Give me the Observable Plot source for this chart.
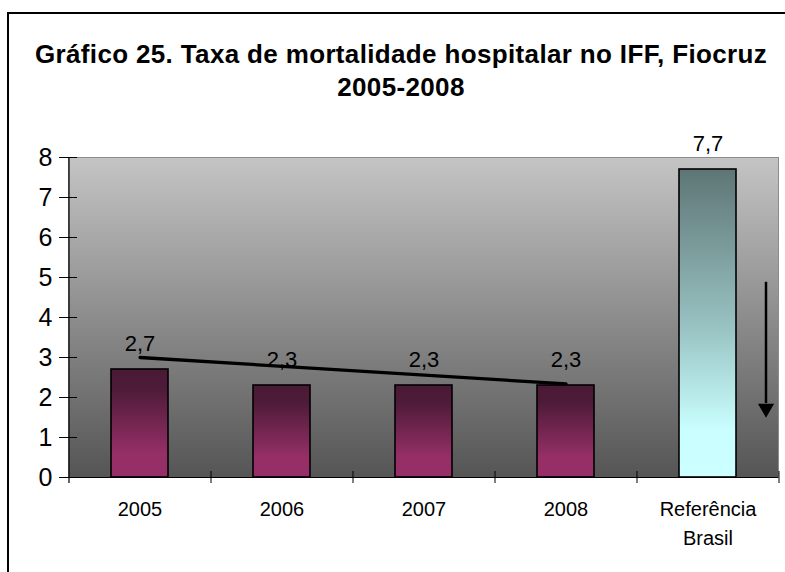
<!DOCTYPE html>
<html><head><meta charset="utf-8">
<script src="https://cdn.jsdelivr.net/npm/d3@7"></script>
<script src="https://cdn.jsdelivr.net/npm/@observablehq/plot@0.6"></script>
<style>
html,body{margin:0;padding:0;background:#fff;overflow:hidden;width:785px;height:572px;}
#frame{position:absolute;left:7px;top:12px;width:800px;height:620px;border:2.5px solid #000;box-sizing:border-box;}
#title{position:absolute;left:7px;width:788px;top:38px;text-align:center;font:bold 26px "Liberation Sans",Arial,sans-serif;line-height:33px;letter-spacing:0.35px;color:#000;}
#chart{position:absolute;left:0;top:130px;}
</style></head><body>
<div id="frame"></div>
<div id="title">Gráfico 25. Taxa de mortalidade hospitalar no IFF, Fiocruz<br>2005-2008</div>
<div id="chart"></div>
<script>
// ---- data ----
const categories = ["2005", "2006", "2007", "2008", "Referência Brasil"];
const rates = [2.7, 2.3, 2.3, 2.3, 7.7];
const rateLabels = ["2,7", "2,3", "2,3", "2,3", "7,7"];
const yTicks = [0, 1, 2, 3, 4, 5, 6, 7, 8];
const trendCategories = ["2005", "2008"];
const trendValues = [3.0, 2.34];
const arrowCategory = "Referência Brasil";
const arrowFrom = 4.88;
const arrowShaftTo = 1.85;
const arrowHead = 1.73;

const rows = categories.map((c, i) => ({category: c, rate: rates[i], label: rateLabels[i]}));
const hospital = rows.slice(0, 4);
const reference = rows.slice(4);
const trend = trendCategories.map((c, i) => ({category: c, value: trendValues[i]}));
const arrow = [{category: arrowCategory, from: arrowFrom, to: arrowShaftTo, head: arrowHead}];

const font = '"Liberation Sans", Arial, sans-serif';

const plot = Plot.plot({
  width: 785, height: 442,
  marginLeft: 68, marginRight: 7, marginTop: 27, marginBottom: 95,
  style: {fontFamily: font, background: "transparent", overflow: "visible", color: "#000"},
  x: {domain: categories, paddingInner: 0.6, paddingOuter: 0.3, label: null},
  y: {domain: [0, 8], label: null},
  marks: [
    Plot.frame({fill: "url(#plotBg)", stroke: "#8c8c8c", strokeWidth: 1}),
    Plot.barY(hospital, {x: "category", y: "rate", fill: "url(#barHosp)", stroke: "#000", strokeWidth: 1.6}),
    Plot.barY(reference, {x: "category", y: "rate", fill: "url(#barRef)", stroke: "#000", strokeWidth: 1.6}),
    Plot.line(trend, {x: "category", y: "value", stroke: "#000", strokeWidth: 3.3}),
    Plot.text(rows, {x: "category", y: "rate", text: "label", lineAnchor: "bottom", dy: -19, fontSize: 22, fill: "#000"}),
    Plot.ruleX(arrow, {x: "category", y1: "from", y2: "to", dx: 58, stroke: "#000", strokeWidth: 2.5}),
    Plot.dot(arrow, {x: "category", y: "head", dx: 58, symbol: "triangle", r: 6, rotate: 180, fill: "#000", stroke: "none"}),
    // axis lines
    Plot.ruleY([0], {stroke: "#000", strokeWidth: 1.2}),
    Plot.ruleX([categories[0]], {x: d => d, dx: -71, y1: -0.15, y2: 8, stroke: "#000", strokeWidth: 1.2}),
    // category boundary ticks crossing the x axis
    Plot.ruleX(categories, {x: d => d, dx: 71, y1: -0.15, y2: 0.15, stroke: "#000", strokeWidth: 1}),
    Plot.axisY({ticks: yTicks, tickSize: 18, dx: 9, tickPadding: 7, fontSize: 25, tickFormat: d => String(d), label: null}),
    Plot.axisX({tickSize: 0, tickPadding: 18, fontSize: 20, lineHeight: 1.45, label: null,
      tickFormat: d => d === "Referência Brasil" ? "Referência\nBrasil" : d})
  ]
});

const svgNS = "http://www.w3.org/2000/svg";
const defs = document.createElementNS(svgNS, "defs");
defs.innerHTML = `
<linearGradient id="plotBg" x1="0" y1="0" x2="0" y2="1">
  <stop offset="0" stop-color="#c4c4c4"/>
  <stop offset="1" stop-color="#555555"/>
</linearGradient>
<linearGradient id="barHosp" x1="0" y1="0" x2="0" y2="1">
  <stop offset="0" stop-color="#4a1a35"/>
  <stop offset="0.18" stop-color="#4d1b38"/>
  <stop offset="0.78" stop-color="#952f66"/>
  <stop offset="1" stop-color="#962f67"/>
</linearGradient>
<linearGradient id="barRef" x1="0" y1="0" x2="0" y2="1">
  <stop offset="0" stop-color="#5e7575"/>
  <stop offset="0.5" stop-color="#97c0c0"/>
  <stop offset="0.85" stop-color="#caffff"/>
  <stop offset="1" stop-color="#ccffff"/>
</linearGradient>`;
plot.insertBefore(defs, plot.firstChild);
document.getElementById("chart").appendChild(plot);
</script>
</body></html>
